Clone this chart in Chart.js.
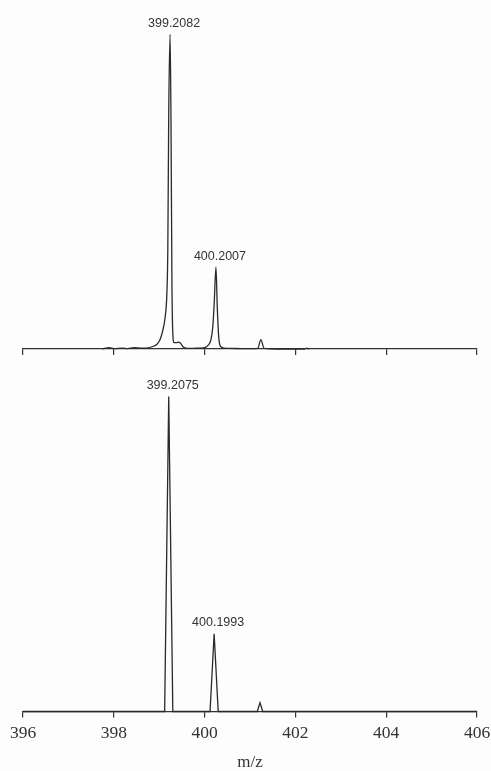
<!DOCTYPE html>
<html>
<head>
<meta charset="utf-8">
<script src="https://cdn.jsdelivr.net/npm/chart.js@4/dist/chart.umd.min.js"></script>
<style>
  body { margin: 0; background: #fdfdfd; }
  .wrap { position: absolute; left: 0; width: 491px; }
  #top { top: 0; height: 362px; }
  #bottom { top: 362px; height: 409px; }
</style>
</head>
<body>
<div class="wrap" id="top"><canvas id="chartTop"></canvas></div>
<div class="wrap" id="bottom"><canvas id="chartBottom"></canvas></div>
<script>
// x axis ticks (m/z)
const xTicks = [396, 398, 400, 402, 404, 406];

// upper spectrum (profile)
const topMz = [397.75, 397.9, 398.0, 398.2, 398.3, 398.45, 398.6, 398.7, 398.86, 398.95, 399.02, 399.08,
  399.13, 399.17, 399.19, 399.21, 399.24, 399.26, 399.28, 399.3, 399.33, 399.38, 399.42, 399.47, 399.52, 399.58,
  399.7, 399.9, 400.0, 400.08, 400.14, 400.18, 400.21, 400.25, 400.28, 400.31, 400.35, 400.42,
  400.6, 400.9, 401.17, 401.24, 401.31, 401.6, 402.2, 402.25, 402.3];
const topInt = [0, 0.4, 0.1, 0.3, 0.1, 0.4, 0.3, 0.3, 0.8, 1.5, 3, 6,
  10, 18, 32, 75, 100, 72, 22, 5, 2, 2, 2.2, 1.8, 0.8, 0.3,
  0.2, 0.3, 0.4, 1.2, 3, 7, 14, 26, 13, 4, 0.8, 0.3,
  0.2, 0.1, 0.2, 3, 0.2, 0, 0, 0.3, 0];

// lower spectrum (centroid-like)
const bottomMz = [396, 399.12, 399.21, 399.3, 400.12, 400.21, 400.3, 401.16, 401.22, 401.28, 406];
const bottomInt = [0, 0, 100, 0, 0, 24.7, 0, 0, 2.8, 0, 0];

// peak labels
const topLabels = ["399.2082", "400.2007"];
const topLabelMz = [399.24, 400.25];
const topLabelInt = [100, 26];
const bottomLabels = ["399.2075", "400.1993"];
const bottomLabelMz = [399.21, 400.21];
const bottomLabelInt = [100, 24.7];

// draw text above the peaks
function peakLabelPlugin(labels, mz, intensity) {
  return {
    id: "peakLabels",
    afterDatasetsDraw(chart) {
      const ctx = chart.ctx;
      const xs = chart.scales.x;
      const ys = chart.scales.y;
      ctx.save();
      ctx.font = "12.5px 'Liberation Sans', Arial, sans-serif";
      ctx.fillStyle = "#333";
      ctx.textAlign = "center";
      ctx.textBaseline = "middle";
      labels.forEach((txt, i) => {
        ctx.fillText(txt, xs.getPixelForValue(mz[i]) + 4, ys.getPixelForValue(intensity[i]) - 11);
      });
      ctx.restore();
    }
  };
}

function makeChart(id, mz, intensity, showLabels, plugin, padBottom) {
  const ctx = document.getElementById(id).getContext("2d");
  return new Chart(ctx, {
    type: "line",
    data: {
      datasets: [{
        data: mz.map((m, i) => ({ x: m, y: intensity[i] })),
        borderColor: "#2a2a2a",
        borderWidth: 1.3,
        pointRadius: 0,
        fill: false,
        tension: showLabels ? 0 : 0.4,
        cubicInterpolationMode: showLabels ? "default" : "monotone",
        clip: false
      }]
    },
    options: {
      responsive: true,
      maintainAspectRatio: false,
      animation: false,
      layout: { padding: { left: 23, right: 14, top: 20, bottom: padBottom } },
      plugins: { legend: { display: false }, tooltip: { enabled: false } },
      scales: {
        x: {
          type: "linear",
          min: xTicks[0],
          max: xTicks[xTicks.length - 1],
          afterBuildTicks: (scale) => { scale.ticks = xTicks.map((v) => ({ value: v })); },
          // keep the plot width the same in both panels
          afterFit: (scale) => { scale.paddingLeft = 0; scale.paddingRight = 0; },
          border: { display: true, color: "#333", width: 1.2 },
          grid: { display: true, drawOnChartArea: false, drawTicks: true, tickLength: 6, color: "#333", lineWidth: 1.2 },
          ticks: {
            display: showLabels,
            padding: 7,
            color: "#333",
            font: { family: "'Liberation Serif', 'Times New Roman', serif", size: 17.5, lineHeight: 1 }
          },
          title: {
            display: showLabels,
            text: "m/z",
            color: "#333",
            padding: { top: 5, bottom: 0 },
            font: { family: "'Liberation Serif', 'Times New Roman', serif", size: 17, lineHeight: 1 }
          }
        },
        y: { display: false, min: 0, max: 104.6 }
      }
    },
    plugins: [plugin]
  });
}

makeChart("chartTop", topMz, topInt, false, peakLabelPlugin(topLabels, topLabelMz, topLabelInt), 7);
makeChart("chartBottom", bottomMz, bottomInt, true, peakLabelPlugin(bottomLabels, bottomLabelMz, bottomLabelInt), 0);
</script>
</body>
</html>
